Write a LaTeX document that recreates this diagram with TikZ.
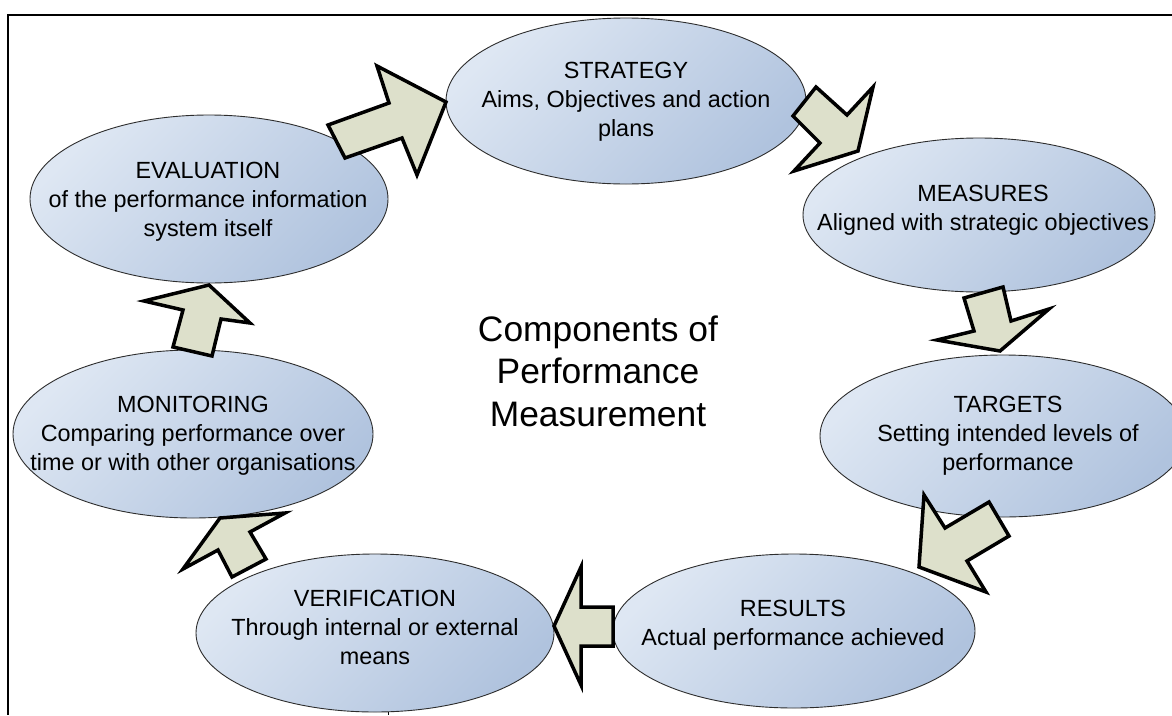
\documentclass[tikz,border=0pt]{standalone}
\usepackage{fontspec}
\setmainfont{Liberation Sans}
\usetikzlibrary{shapes.geometric}
\definecolor{arrowfill}{RGB}{221,224,203}
\definecolor{elllight}{RGB}{222,231,243}
\definecolor{elldark}{RGB}{176,195,222}
\definecolor{ellline}{RGB}{45,45,45}
\begin{document}
\begin{tikzpicture}[x=1pt,y=-1pt,
  stage/.style={ellipse, draw=ellline, line width=0.9pt, top color=elllight, bottom color=elldark, shading angle=45, inner sep=0pt},
  stagetext/.style={align=center, font=\fontsize{23.4}{29}\selectfont, inner sep=0pt},
  blockarrow/.style={draw=black, fill=arrowfill, line width=3.5pt, line join=miter},
  titletext/.style={align=center, font=\fontsize{35.4}{42.5}\selectfont, inner sep=0pt},
  frameline/.style={draw=black, line width=2pt}]
\useasboundingbox (0,0) rectangle (1172,715);
\fill[white] (0,0) rectangle (1172,715);

% frame
\coordinate (frTR) at (1172,15);
\coordinate (frTL) at (8,15);
\coordinate (frBL) at (8,715);
\draw[frameline] (frTR) -- (frTL) -- (frBL);
\coordinate (tickA) at (388,697);
\coordinate (tickB) at (388,715);
\draw[line width=0.8pt] (tickA) -- (tickB);

% stages
\node[stage, minimum width=360pt, minimum height=166pt] (strategy) at (626,101) {};
\node[stage, minimum width=352pt, minimum height=154pt] (measures) at (979,215) {};
\node[stage, minimum width=366pt, minimum height=162pt] (targets) at (1003,436) {};
\node[stage, minimum width=362pt, minimum height=154pt] (results) at (794,631) {};
\node[stage, minimum width=358pt, minimum height=158pt] (verification) at (375,633) {};
\node[stage, minimum width=360pt, minimum height=168pt] (monitoring) at (193,434) {};
\node[stage, minimum width=358pt, minimum height=168pt] (evaluation) at (209,199) {};

% block arrows
\draw[blockarrow] (328,125) -- (389,103) -- (377,66) -- (446,102) -- (417,175) -- (402,138) -- (345,158) -- cycle;
\draw[blockarrow] (793,116) -- (816,87) -- (847,115) -- (873,87) -- (858,151) -- (794,171) -- (820,143) -- cycle;
\draw[blockarrow] (964,298) -- (1003,287) -- (1011,321) -- (1049,309) -- (1000,351) -- (937,340) -- (974,331) -- cycle;
\draw[blockarrow] (989,502) -- (945,528) -- (924,495) -- (919,567) -- (986,592) -- (967,561) -- (1009,536) -- cycle;
\draw[blockarrow] (613,607) -- (581,607) -- (581,567) -- (554,626) -- (581,685) -- (581,646) -- (613,646) -- cycle;
\draw[blockarrow] (266,559) -- (250,532) -- (285,513) -- (220,518) -- (183,569) -- (218,550) -- (232,577) -- cycle;
\draw[blockarrow] (212,356) -- (221,319) -- (250,323) -- (209,285) -- (144,301) -- (183,310) -- (173,347) -- cycle;

% texts
\node[stagetext] (strategyT) at (626,102) {STRATEGY\\Aims, Objectives and action\\plans};
\node[stagetext] (measuresT) at (983,210) {MEASURES\\Aligned with strategic objectives};
\node[stagetext] (targetsT) at (1008,436) {TARGETS\\Setting intended levels of\\performance};
\node[stagetext] (resultsT) at (793,625) {RESULTS\\Actual performance achieved};
\node[stagetext] (verificationT) at (375,627) {VERIFICATION\\Through internal or external\\means};
\node[stagetext] (monitoringT) at (193,436) {MONITORING\\Comparing performance over\\time or with other organisations};
\node[stagetext] (evaluationT) at (208,202) {EVALUATION\\of the performance information\\system itself};
\node[titletext] (title) at (598,371) {Components of\\Performance\\Measurement};
\end{tikzpicture}
\end{document}
